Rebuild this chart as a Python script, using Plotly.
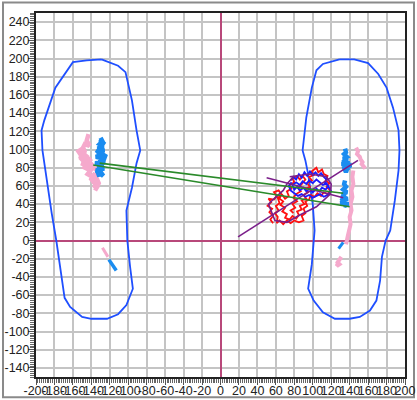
import plotly.graph_objects as go

# ---- data ----
lfoot_x = [-129, -111, -103, -96, -91, -87, -91, -96, -102, -101, -98, -95, -102, -111, -123, -140, -150, -163, -169, -172, -176, -178, -183, -188, -193, -194, -191, -179, -160, -145, -129]
lfoot_y = [199, 192, 185, 154, 121, 99, 85, 58, 33, 0, -29, -53, -71, -81, -86, -86, -84, -73, -63, -40, -11, 0, 30, 63, 99, 121, 132, 168, 196, 198, 199]
rfoot_x = [129, 111, 104, 99, 93, 89, 92, 95, 100, 102, 99, 95, 101, 111, 124, 140, 151, 162, 169, 173, 175, 179, 184, 189, 193, 194, 193, 187, 180, 171, 160, 145, 129]
rfoot_y = [199, 194, 187, 168, 135, 99, 88, 73, 40, 11, -26, -53, -66, -79, -86, -86, -84, -77, -66, -44, -18, 0, 11, 44, 77, 99, 121, 146, 168, 183, 195, 199, 199]

pinkL_x = [-143, -145, -142, -147, -150, -146, -153, -149, -152, -144, -148, -140, -146, -151, -143, -139, -147, -141, -137, -144, -139, -136, -141, -135, -138, -134, -137, -133, -136, -132, -135, -133, -150, -154, -148, -152, -145]
pinkL_y = [117, 110, 104, 106, 100, 97, 96, 92, 88, 94, 86, 90, 84, 85, 81, 86, 80, 77, 82, 73, 70, 74, 66, 68, 62, 64, 58, 60, 55, 63, 70, 76, 92, 98, 102, 90, 95]
blueL_x = [-130, -128, -131, -127, -133, -126, -134, -128, -135, -127, -132, -125, -136, -129, -133, -126, -135, -130, -128, -134, -131, -127, -132, -129, -125, -133, -127, -131]
blueL_y = [113, 109, 106, 104, 101, 99, 96, 95, 92, 90, 88, 86, 85, 83, 80, 79, 77, 75, 73, 72, 74, 71, 78, 82, 93, 98, 107, 111]
pinkLlow_x = [-128, -125, -122]
pinkLlow_y = [-8, -13, -18]
blueLlow_x = [-121, -117, -113]
blueLlow_y = [-21, -27, -33]

blueR1_x = [135, 136, 134, 137, 133, 138, 132, 140, 131, 142, 134, 141, 133, 139, 135, 137, 136, 134, 137]
blueR1_y = [101, 97, 95, 92, 90, 88, 86, 85, 84, 83, 81, 82, 79, 80, 77, 78, 75, 80, 86]
blueR2_x = [135, 134, 136, 133, 137, 132, 135, 131, 138, 133, 136, 130, 139, 134, 137, 132, 135]
blueR2_y = [66, 62, 59, 56, 53, 51, 49, 47, 46, 44, 43, 41, 40, 39, 38, 45, 50]
blueRlow_x = [133, 130, 128]
blueRlow_y = [-2, -6, -9]
pinkR1_x = [147, 149, 148, 151, 152, 154, 153, 156, 157]
pinkR1_y = [102, 98, 95, 92, 89, 86, 84, 81, 79]
pinkR2_x = [144, 143, 144, 142, 143, 141, 142, 140, 141, 139, 138, 137, 136, None, 131, 129, 127, 129, 126, 128]
pinkR2_y = [77, 70, 62, 55, 48, 40, 33, 26, 18, 11, 5, 0, -4, None, -18, -21, -24, -26, -28, -23]

green1_x = [-131, 133]
green1_y = [85, 52]
green2_x = [-138, 140]
green2_y = [83, 37]

red_x = [57, 54, 57, 53, 56, 51, 55, 52, 58, 61, 58, 63, 66, 64, 68, 65, 70, 67, 72, 70, 75, 78, 82, 85, 83, 88, 86, 91, 88, 93, 90, 95, 92, 97, 94, 99, 96, 101, 99, 104, 106, 110, 112, 116, 114, 118, 115, 119, 116, 112, 109, 105, 102, 98, 96, 92, 94, 90, 92, 88, 90, 85, 80, 76, 72, 68, 64, 61, 62, 59, 63, 60, 64, 62, 67, 70, 74, 72, 77, 75, 80, 78, 83, 86, 89, 92, 88, 84, 87, 82, 79, 83, 78, 81, 76, 79]
red_y = [19, 23, 27, 31, 35, 38, 42, 46, 45, 49, 53, 55, 51, 46, 43, 39, 36, 32, 29, 25, 23, 27, 24, 28, 32, 34, 38, 40, 44, 46, 50, 53, 57, 59, 63, 66, 70, 72, 76, 80, 75, 78, 73, 71, 66, 63, 59, 55, 51, 53, 49, 52, 48, 50, 45, 43, 38, 35, 30, 27, 22, 20, 22, 19, 22, 18, 22, 19, 26, 30, 33, 38, 41, 47, 50, 46, 49, 54, 57, 61, 64, 68, 71, 67, 71, 67, 62, 58, 54, 51, 47, 43, 40, 36, 33, 30]
blueS_x = [76, 79, 82, 85, 88, 91, 94, 97, 100, 103, 106, 109, 112, 115, 113, 117, 114, 110, 107, 104, 100, 97, 93, 90, 86, 83, 80, 78, 82, 86, 89, 93, 96, 100, 104, 108, 111, 115, 118, 120, 116, 112, 108, 104, 100, 96, 92, 88, 84, 80, 76, 74, 77]
blueS_y = [66, 70, 67, 73, 69, 75, 71, 76, 72, 75, 71, 74, 70, 67, 63, 60, 56, 58, 54, 57, 53, 57, 54, 58, 55, 59, 56, 61, 64, 61, 65, 62, 66, 63, 67, 64, 61, 63, 58, 54, 50, 48, 51, 49, 47, 50, 48, 51, 49, 52, 55, 60, 64]
purple_x = [75, 97, 115, 120, 119, 104, 86, 72, 59, 52, 57, 68, 72, 79, None, 19, 149, None, 50, 133]
purple_y = [70, 73, 70, 62, 51, 37, 28, 20, 22, 40, 45, 55, 62, 70, None, 4, 88, None, 69, 47]

xticks = list(range(-200, 201, 20))
yticks = list(range(-140, 241, 20))

FOOT = "#1f4fff"
CLUSTER = "#1a8cf0"
PINK = "#f5a9cc"

fig = go.Figure()

def add(x, y, color, width):
    fig.add_trace(go.Scatter(x=x, y=y, mode="lines", line=dict(color=color, width=width),
                             hoverinfo="skip", showlegend=False))

add(lfoot_x, lfoot_y, FOOT, 1.8)
add(rfoot_x, rfoot_y, FOOT, 1.8)
add(pinkL_x, pinkL_y, PINK, 4.5)
add(blueL_x, blueL_y, CLUSTER, 4.5)
add(pinkLlow_x, pinkLlow_y, PINK, 3)
add(blueLlow_x, blueLlow_y, CLUSTER, 3.5)
add(pinkR1_x, pinkR1_y, PINK, 4)
add(pinkR2_x, pinkR2_y, PINK, 4)
add(blueR1_x, blueR1_y, CLUSTER, 4.5)
add(blueR2_x, blueR2_y, CLUSTER, 4.5)
add(blueRlow_x, blueRlow_y, CLUSTER, 3)
add(red_x, red_y, "#ff1010", 1.8)
add(blueS_x, blueS_y, "#1a1aff", 1.8)
add(purple_x, purple_y, "#7b1f8a", 1.6)
add(green1_x, green1_y, "#2a8a2a", 1.6)
add(green2_x, green2_y, "#2a8a2a", 1.6)

axis_common = dict(
    showgrid=True, gridcolor="#c4c4c4", gridwidth=1.5,
    zeroline=True, zerolinecolor="#b8487a", zerolinewidth=2,
    showline=True, mirror=True, linecolor="#222222", linewidth=2,
    ticks="outside", ticklen=6, tickcolor="#555555", tickwidth=1,
    tickfont=dict(family="Liberation Sans, Arial, sans-serif", size=12.5, color="#222222"),
    minor=dict(ticks="outside", ticklen=4, dtick=2, tickcolor="#666666", tickwidth=1, showgrid=False),
    fixedrange=True, automargin=False,
)

fig.update_layout(
    width=417, height=400,
    margin=dict(l=36, r=12, t=13, b=23),
    plot_bgcolor="white", paper_bgcolor="white",
    xaxis=dict(range=[-200, 200], tickvals=xticks, ticktext=[str(v) for v in xticks], tickangle=0,
               ticklabelstandoff=-5, **axis_common),
    yaxis=dict(range=[-150, 250], tickvals=yticks, ticktext=[str(v) for v in yticks],
               ticklabelstandoff=-4, **axis_common),
    shapes=[dict(type="rect", xref="paper", yref="paper",
                 x0=-0.0894, x1=1.0244, y0=-0.0558, y1=1.029,
                 line=dict(color="#8a8a8a", width=2), layer="below")],
)

fig.write_html("out.html", config={"displayModeBar": False},
               post_script="document.body.style.margin='0';document.body.style.padding='0';")
